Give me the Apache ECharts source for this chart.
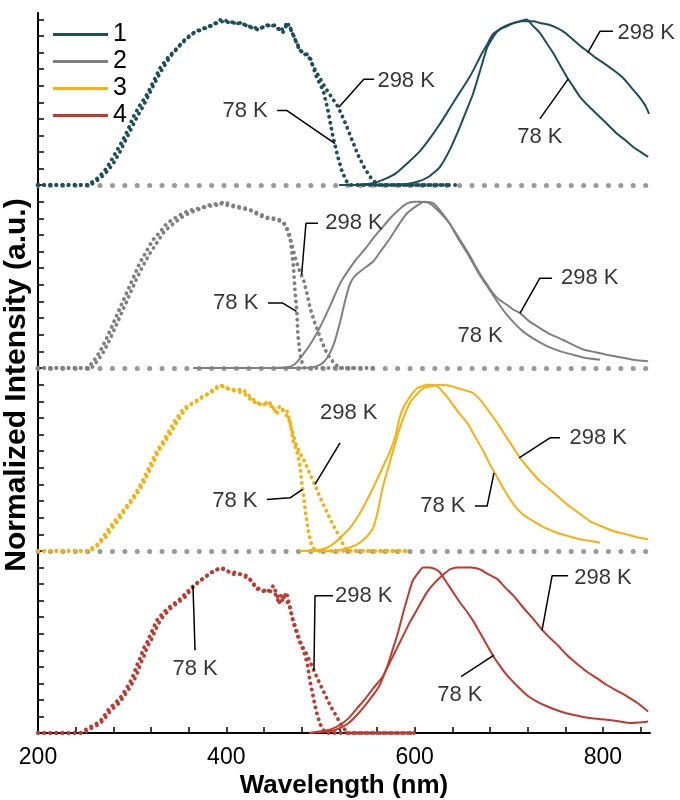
<!DOCTYPE html>
<html><head><meta charset="utf-8">
<script src="https://cdn.jsdelivr.net/npm/echarts@6/dist/echarts.min.js"></script>
<style>html,body{margin:0;padding:0;background:#fff}#c{width:680px;height:800px}</style>
</head><body><div id="c"></div>
<script>
// ---- tick values ----
const xLabelValues = [200, 400, 600, 800];
const xTickValues = [200, 240, 280, 320, 360, 400, 440, 480, 520, 560, 600, 640, 680, 720, 760, 800, 840];
const yTickValues = [0, 0.1, 0.2, 0.3, 0.4, 0.5, 0.6, 0.7, 0.8, 0.9, 1.0];
const legendNames = ['1', '2', '3', '4'];

// ---- panel 1 ----
const ex78_p1 = [[200,0],[215,0],[230,0],[245,0],[253,0],[263,0.04],[270,0.08],[276,0.13],[283,0.20],[290,0.27],[296,0.34],[301,0.41],[308,0.48],[316,0.55],[323,0.63],[330,0.71],[338,0.77],[348,0.83],[356,0.88],[365,0.92],[374,0.94],[383,0.96],[390,0.98],[397,0.99],[405,0.98],[415,0.98],[423,0.96],[433,0.94],[441,0.96],[450,0.97],[455,0.95],[460,0.92],[465,0.98],[471,0.91],[478,0.81],[484,0.80],[489,0.77],[496,0.65],[503,0.57],[508,0.45],[513,0.30],[518,0.18],[523,0.08],[528,0.02],[533,0],[550,0],[570,0],[590,0],[610,0],[630,0],[646,0]];
const ex298_p1 = [[200,0],[220,0],[240,0],[256,0],[266,0.04],[273,0.08],[280,0.13],[287,0.20],[293,0.27],[299,0.34],[305,0.41],[312,0.48],[319,0.56],[326,0.64],[333,0.71],[341,0.78],[350,0.84],[359,0.89],[368,0.93],[377,0.95],[386,0.97],[394,1.0],[402,0.99],[410,0.98],[420,0.97],[428,0.95],[437,0.95],[445,0.97],[452,0.96],[458,0.93],[463,0.97],[468,0.95],[473,0.88],[480,0.80],[487,0.78],[494,0.70],[500,0.64],[506,0.58],[512,0.53],[519,0.47],[526,0.38],[533,0.28],[540,0.18],[547,0.10],[554,0.04],[561,0],[580,0],[600,0],[620,0],[640,0]];
const em78_p1 = [[520,0],[560,0],[590,0.005],[603,0.02],[615,0.05],[627,0.11],[638,0.22],[648,0.35],[655,0.45],[662,0.55],[670,0.70],[677,0.83],[683,0.89],[688,0.93],[696,0.96],[705,0.98],[712,0.99],[719,1.0],[726,0.96],[733,0.92],[740,0.86],[747,0.80],[755,0.72],[762,0.65],[769,0.59],[776,0.53],[786,0.47],[797,0.41],[806,0.36],[815,0.31],[824,0.27],[832,0.23],[840,0.20],[848,0.17]];
const em298_p1 = [[520,0],[540,0.002],[556,0.01],[570,0.04],[580,0.07],[592,0.13],[605,0.20],[616,0.28],[627,0.37],[638,0.47],[648,0.56],[656,0.63],[662,0.69],[670,0.78],[677,0.85],[683,0.91],[690,0.94],[698,0.96],[706,0.98],[713,0.99],[719,0.99],[726,0.99],[733,0.98],[742,0.97],[751,0.95],[760,0.92],[768,0.88],[776,0.84],[783,0.81],[792,0.77],[800,0.74],[810,0.70],[821,0.65],[830,0.59],[839,0.53],[845,0.48],[849,0.43]];

// ---- panel 2 ----
const ex78_p2 = [[200,0],[220,0],[240,0],[253,0],[260,0.05],[266,0.10],[273,0.18],[280,0.27],[287,0.36],[294,0.45],[301,0.54],[308,0.63],[315,0.70],[322,0.77],[330,0.82],[337,0.87],[345,0.90],[354,0.93],[363,0.95],[372,0.96],[382,0.98],[393,0.99],[400,0.98],[407,0.97],[416,0.96],[425,0.95],[434,0.92],[443,0.90],[450,0.90],[457,0.89],[461,0.87],[464,0.84],[468,0.77],[471,0.63],[473,0.46],[475,0.33],[476,0.20],[478,0.10],[480,0.04],[483,0],[500,0],[520,0],[540,0]];
const ex298_p2 = [[200,0],[225,0],[245,0],[257,0],[264,0.05],[270,0.10],[277,0.18],[284,0.27],[291,0.36],[298,0.45],[305,0.54],[312,0.62],[319,0.69],[327,0.76],[334,0.82],[342,0.86],[351,0.90],[360,0.93],[369,0.95],[379,0.97],[390,0.98],[398,1.0],[405,0.98],[413,0.97],[421,0.96],[430,0.94],[438,0.92],[446,0.90],[453,0.89],[459,0.88],[463,0.86],[467,0.80],[471,0.71],[475,0.63],[478,0.58],[482,0.53],[486,0.44],[489,0.36],[494,0.27],[500,0.18],[505,0.11],[510,0.06],[516,0.02],[522,0],[540,0],[560,0]];
const em78_p2 = [[365,0],[420,0],[470,0],[490,0.003],[500,0.02],[507,0.06],[514,0.14],[521,0.28],[526,0.40],[531,0.50],[536,0.55],[542,0.58],[549,0.61],[556,0.64],[565,0.71],[574,0.78],[583,0.86],[592,0.93],[601,0.97],[610,1.0],[620,0.99],[628,0.94],[637,0.87],[646,0.78],[656,0.69],[662,0.63],[669,0.56],[676,0.50],[683,0.44],[690,0.38],[698,0.32],[706,0.27],[715,0.22],[728,0.17],[741,0.13],[755,0.10],[768,0.08],[782,0.06],[797,0.05]];
const em298_p2 = [[365,0],[400,0],[440,0],[465,0.005],[472,0.02],[480,0.07],[490,0.15],[500,0.25],[510,0.37],[521,0.51],[530,0.59],[539,0.66],[548,0.72],[556,0.78],[565,0.84],[574,0.90],[583,0.95],[592,0.99],[600,1.0],[606,1.0],[616,0.99],[626,0.94],[637,0.87],[646,0.79],[656,0.70],[663,0.63],[669,0.57],[676,0.51],[683,0.45],[690,0.41],[698,0.38],[705,0.35],[712,0.33],[722,0.28],[733,0.24],[745,0.20],[757,0.17],[768,0.14],[780,0.11],[792,0.095],[804,0.08],[818,0.065],[832,0.05],[848,0.04]];

// ---- panel 3 ----
const ex78_p3 = [[200,0],[220,0],[240,0],[252,0],[258,0.02],[263,0.04],[270,0.09],[276,0.14],[283,0.19],[290,0.24],[298,0.30],[305,0.36],[311,0.42],[316,0.48],[321,0.54],[326,0.60],[332,0.65],[337,0.70],[344,0.77],[351,0.83],[358,0.87],[365,0.89],[372,0.92],[379,0.94],[386,0.97],[393,1.0],[400,0.98],[407,0.97],[413,0.97],[418,0.97],[425,0.93],[433,0.89],[440,0.88],[446,0.89],[450,0.86],[454,0.83],[459,0.85],[464,0.85],[468,0.77],[471,0.66],[475,0.60],[478,0.52],[480,0.42],[482,0.33],[484,0.24],[487,0.12],[490,0.05],[492,0.02],[496,0],[520,0],[550,0],[575,0],[593,0]];
const ex298_p3 = [[200,0],[225,0],[245,0],[255,0],[261,0.02],[266,0.05],[273,0.09],[279,0.14],[286,0.19],[293,0.25],[301,0.31],[308,0.37],[314,0.43],[319,0.49],[324,0.55],[329,0.61],[335,0.66],[341,0.71],[348,0.78],[355,0.84],[362,0.88],[369,0.90],[376,0.93],[383,0.95],[390,0.98],[397,0.99],[404,0.97],[411,0.96],[418,0.95],[426,0.91],[434,0.88],[442,0.89],[448,0.87],[452,0.84],[457,0.87],[462,0.83],[466,0.80],[470,0.72],[474,0.64],[479,0.58],[483,0.54],[486,0.50],[490,0.45],[494,0.40],[499,0.33],[503,0.28],[508,0.22],[513,0.16],[517,0.12],[521,0.08],[524,0.04],[527,0.01],[530,0],[560,0],[593,0]];
const em78_p3 = [[478,0],[495,0.005],[505,0.015],[513,0.04],[521,0.08],[530,0.13],[539,0.20],[547,0.28],[556,0.38],[565,0.49],[574,0.60],[580,0.70],[584,0.80],[588,0.86],[592,0.90],[598,0.95],[603,0.98],[608,0.99],[613,1.0],[619,1.0],[624,0.99],[631,0.95],[638,0.90],[647,0.83],[656,0.77],[664,0.69],[673,0.60],[680,0.52],[688,0.44],[696,0.36],[705,0.28],[715,0.22],[726,0.18],[738,0.14],[751,0.11],[763,0.09],[776,0.07],[787,0.06],[797,0.05]];
const em298_p3 = [[478,0],[510,0],[525,0.01],[539,0.04],[548,0.08],[556,0.14],[561,0.24],[566,0.38],[574,0.54],[581,0.68],[588,0.80],[595,0.89],[602,0.94],[610,0.98],[618,0.99],[627,1.0],[636,0.995],[645,0.98],[654,0.965],[662,0.95],[671,0.90],[680,0.83],[689,0.76],[698,0.68],[705,0.62],[712,0.56],[722,0.49],[733,0.42],[748,0.35],[762,0.28],[774,0.23],[786,0.18],[798,0.15],[811,0.12],[825,0.10],[839,0.08],[848,0.07]];

// ---- panel 4 ----
const ex78_p4 = [[200,0],[215,0],[230,0],[245,0],[253,0.03],[260,0.05],[266,0.07],[271,0.11],[276,0.15],[282,0.18],[287,0.21],[293,0.26],[298,0.31],[302,0.36],[305,0.41],[309,0.46],[312,0.51],[316,0.55],[319,0.59],[323,0.64],[326,0.68],[332,0.72],[337,0.75],[344,0.78],[351,0.81],[358,0.85],[365,0.89],[372,0.92],[379,0.95],[387,0.98],[395,1.0],[401,0.98],[407,0.96],[415,0.96],[422,0.95],[428,0.91],[433,0.87],[438,0.86],[443,0.85],[447,0.87],[450,0.89],[454,0.83],[457,0.78],[461,0.82],[464,0.85],[468,0.75],[471,0.67],[475,0.60],[478,0.55],[482,0.50],[486,0.42],[489,0.31],[492,0.23],[494,0.17],[497,0.10],[500,0.05],[503,0.02],[506,0],[530,0],[560,0],[600,0]];
const ex298_p4 = [[200,0],[220,0],[240,0],[249,0],[257,0.03],[264,0.05],[270,0.08],[275,0.12],[280,0.15],[286,0.18],[291,0.22],[297,0.27],[302,0.32],[306,0.37],[309,0.42],[313,0.47],[316,0.52],[320,0.56],[323,0.60],[327,0.65],[331,0.69],[337,0.73],[342,0.76],[349,0.79],[356,0.82],[363,0.87],[370,0.91],[377,0.94],[384,0.97],[391,0.99],[398,0.99],[404,0.97],[411,0.97],[418,0.95],[425,0.93],[431,0.88],[436,0.87],[441,0.86],[446,0.86],[452,0.84],[455,0.80],[459,0.84],[463,0.80],[467,0.78],[470,0.70],[474,0.63],[478,0.56],[482,0.51],[486,0.47],[489,0.43],[492,0.39],[496,0.34],[500,0.29],[505,0.23],[510,0.17],[514,0.13],[518,0.09],[522,0.05],[526,0.02],[530,0],[560,0],[600,0]];
const em78_p4 = [[488,0],[500,0.005],[510,0.01],[521,0.03],[530,0.06],[539,0.11],[548,0.17],[556,0.23],[562,0.28],[566,0.33],[572,0.42],[577,0.51],[583,0.62],[588,0.73],[593,0.83],[598,0.92],[604,0.97],[609,1.0],[616,1.0],[622,0.99],[627,0.97],[634,0.91],[641,0.85],[648,0.79],[656,0.73],[663,0.67],[669,0.61],[676,0.54],[683,0.47],[690,0.41],[698,0.35],[708,0.29],[719,0.23],[730,0.19],[741,0.16],[755,0.13],[768,0.11],[786,0.09],[804,0.08],[818,0.07],[829,0.06],[838,0.063],[848,0.07]];
const em298_p4 = [[488,0],[500,0.01],[510,0.02],[521,0.05],[530,0.09],[539,0.15],[548,0.21],[556,0.27],[566,0.34],[574,0.43],[581,0.51],[588,0.59],[595,0.67],[604,0.76],[613,0.85],[620,0.90],[627,0.94],[633,0.97],[638,0.99],[645,1.0],[651,1.0],[660,1.0],[669,0.99],[678,0.96],[688,0.93],[696,0.88],[705,0.83],[715,0.76],[726,0.69],[733,0.64],[741,0.59],[752,0.53],[762,0.47],[772,0.42],[783,0.37],[794,0.33],[804,0.29],[815,0.255],[826,0.22],[837,0.18],[848,0.13]];

// ---- annotations: [text, text anchor (data units), leader polyline (data units)] ----
const notes_p1 = [
  ['78 K', [420, 0.45], [[454,0.45],[464.5,0.45],[515.5,0.25]]],
  ['298 K', [591, 0.63], [[557,0.64],[546,0.64],[519.5,0.47]]],
  ['298 K', [846, 0.92], [[810.7,0.93],[797,0.93],[784,0.80]]],
  ['78 K', [733, 0.29], [[733,0.40],[763,0.64]]]
];
const notes_p2 = [
  ['298 K', [535.6, 0.87], [[497.4,0.87],[484.6,0.87],[480,0.56]]],
  ['78 K', [410, 0.39], [[444.3,0.39],[460,0.39],[474.5,0.34]]],
  ['298 K', [786, 0.54], [[746,0.54],[733,0.54],[712,0.33]]],
  ['78 K', [669.5, 0.19], []]
];
const notes_p3 = [
  ['298 K', [530, 0.83], [[520.8,0.65],[494.2,0.40]]],
  ['78 K', [409, 0.30], [[443,0.31],[467.7,0.32],[481,0.37]]],
  ['298 K', [795, 0.68], [[754.4,0.68],[743.8,0.68],[711,0.56]]],
  ['78 K', [630, 0.27], [[664,0.27],[677,0.27],[684.3,0.47]]]
];
const notes_p4 = [
  ['78 K', [366.8, 0.39], [[366.8,0.50],[364.6,0.89]]],
  ['298 K', [546, 0.83], [[513.3,0.83],[494.2,0.83],[493.1,0.38]]],
  ['298 K', [800, 0.94], [[763,0.95],[746,0.95],[735.3,0.62]]],
  ['78 K', [648, 0.23], [[649.3,0.34],[684.3,0.47]]]
];

// ---- assembly ----
const FONT = "'Liberation Sans', Arial, sans-serif";
const panelColors = ['#1c4e5b', '#808080', '#f6b10e', '#c1392f'];
const panels = [
  {ex78: ex78_p1, ex298: ex298_p1, em78: em78_p1, em298: em298_p1, notes: notes_p1},
  {ex78: ex78_p2, ex298: ex298_p2, em78: em78_p2, em298: em298_p2, notes: notes_p2},
  {ex78: ex78_p3, ex298: ex298_p3, em78: em78_p3, em298: em298_p3, notes: notes_p3},
  {ex78: ex78_p4, ex298: ex298_p4, em78: em78_p4, em298: em298_p4, notes: notes_p4}
];
const gridLayout = [{top: 13, height: 172, ymax: 1.04}, {top: 185, height: 183, ymax: 1.1}, {top: 368, height: 183, ymax: 1.1}, {top: 551, height: 184, ymax: 1.1}];

const grids = [], xAxes = [], yAxes = [], series = [];
gridLayout.forEach((g, i) => {
  const last = i === gridLayout.length - 1;
  grids.push({left: 38, right: 30, top: g.top, height: g.height});
  xAxes.push({
    type: 'value', gridIndex: i, min: 200, max: 850,
    splitLine: {show: false},
    axisLine: last ? {show: true, lineStyle: {color: '#000', width: 2}}
                   : {show: true, lineStyle: {color: '#9a9a9a', width: 5, type: [0.1, 12.3], cap: 'round'}},
    axisTick: last ? {show: true, inside: true, length: 6, lineStyle: {color: '#000', width: 1.5}, customValues: xTickValues} : {show: false},
    axisLabel: last ? {show: true, customValues: xLabelValues, fontSize: 23, color: '#000', fontFamily: FONT, margin: 13} : {show: false},
    name: last ? 'Wavelength (nm)' : '',
    nameLocation: 'middle', nameGap: 40,
    nameTextStyle: {fontSize: 26, fontWeight: 'bold', color: '#000', fontFamily: FONT}
  });
  yAxes.push({
    type: 'value', gridIndex: i, min: 0, max: g.ymax,
    splitLine: {show: false},
    axisLine: {show: true, lineStyle: {color: '#000', width: 2}},
    axisTick: {show: true, inside: true, length: 6, lineStyle: {color: '#000', width: 1.5}, customValues: yTickValues},
    axisLabel: {show: false}
  });
});

panels.forEach((p, i) => {
  const c = panelColors[i];
  const base = {type: 'line', xAxisIndex: i, yAxisIndex: i, showSymbol: false, symbol: 'none', silent: true, animation: false, itemStyle: {color: c}};
  const dotted = {color: c, width: 3.8, type: [0.1, 6], cap: 'round'};
  const solid = {color: c, width: 2};
  series.push(Object.assign({}, base, {name: 'ex78-' + i, data: p.ex78, lineStyle: dotted, z: 3}));
  series.push(Object.assign({}, base, {name: 'ex298-' + i, data: p.ex298, lineStyle: dotted, z: 3}));
  series.push(Object.assign({}, base, {name: 'em78-' + i, data: p.em78, lineStyle: solid, smooth: 0.2, z: 4}));
  series.push(Object.assign({}, base, {name: legendNames[i], data: p.em298, lineStyle: solid, smooth: 0.2, z: 4}));
  p.notes.forEach((n, k) => {
    if (n[2].length) {
      series.push({type: 'line', name: 'lead-' + i + '-' + k, xAxisIndex: i, yAxisIndex: i, data: n[2], symbol: 'none', silent: true, animation: false, lineStyle: {color: '#000', width: 1.5}, itemStyle: {color: '#000'}, z: 5});
    }
  });
  series.push({
    type: 'scatter', name: 'notes-' + i, xAxisIndex: i, yAxisIndex: i, silent: true, animation: false,
    symbolSize: 1, itemStyle: {color: 'rgba(0,0,0,0)'}, z: 6,
    data: p.notes.map(n => ({name: n[0], value: n[1]})),
    label: {show: true, position: 'inside', formatter: '{b}', fontSize: 22, color: '#000', fontFamily: FONT}
  });
});

const chart = echarts.init(document.getElementById('c'), null, {renderer: 'canvas'});
chart.setOption({
  animation: false,
  backgroundColor: '#fff',
  grid: grids, xAxis: xAxes, yAxis: yAxes, series: series,
  legend: {
    data: legendNames, orient: 'vertical', left: 53, top: 22, icon: 'rect',
    itemWidth: 55, itemHeight: 3, itemGap: 2, selectedMode: false, padding: 0,
    textStyle: {fontSize: 25, lineHeight: 24, color: '#000', fontFamily: FONT}
  },
  graphic: [{
    type: 'text', x: 17, y: 385, rotation: Math.PI / 2, silent: true,
    style: {text: 'Normalized Intensity (a.u.)', font: "bold 30px 'Liberation Sans', Arial, sans-serif", fill: '#000', align: 'center', verticalAlign: 'middle'}
  }]
});
</script></body></html>
